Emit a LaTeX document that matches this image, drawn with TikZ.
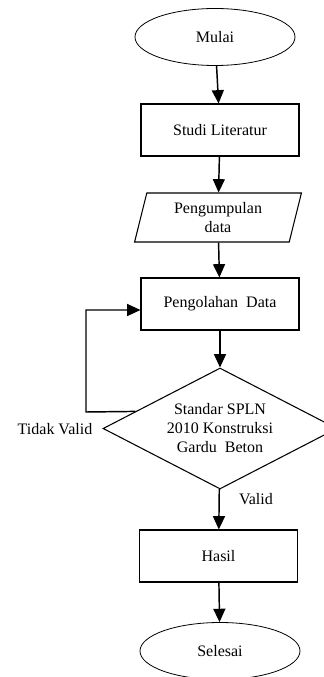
\documentclass[tikz,border=0pt]{standalone}
\usepackage{fontspec}
\setmainfont{Liberation Serif}
\usetikzlibrary{shapes.geometric,arrows.meta,calc}
\begin{document}
\begin{tikzpicture}[x=0.75pt,y=-0.75pt,font=\fontsize{12}{14.25}\selectfont,
  terminal/.style={draw, ellipse, line width=0.6pt, minimum width=120pt, minimum height=42.75pt, inner sep=0pt},
  process/.style={draw, rectangle, line width=0.8pt, minimum width=118.5pt, minimum height=39pt, inner sep=0pt},
  io/.style={draw, trapezium, trapezium left angle=76, trapezium right angle=104, line width=0.8pt, minimum width=125.25pt, minimum height=36.75pt, inner sep=0pt, align=center},
  decision/.style={draw, diamond, aspect=1.93, line width=0.8pt, minimum width=175.5pt, minimum height=90.75pt, inner sep=0pt, align=center},
  flow/.style={draw, line width=1.1pt, -{Triangle[length=10pt,width=9pt]}}]
\useasboundingbox (0,0) rectangle (324,677);
\node[terminal] (mulai) at (215,37) {Mulai};
\node[process] (studi) at (220,130) {Studi Literatur};
\node[io] (kumpul) at (218,217.5) {Pengumpulan\\data};
\node[process] (olah) at (220,304) {Pengolahan\ \ Data};
\node[decision] (cek) at (220,428.5) {Standar SPLN\\2010 Konstruksi\\Gardu\ \ Beton};
\node[process] (hasil) at (218.5,556) {Hasil};
\node[terminal] (selesai) at (220,651) {Selesai};
\node (tidak) at (55,429) {Tidak Valid};

\coordinate (tv0) at ($(cek.west)!0.28!(cek.north)$);
\coordinate (tv1) at (86,412);
\coordinate (tv2) at (86,310);

\path[flow] (mulai) -- (studi);
\path[flow] (studi) -- (kumpul);
\path[flow] (kumpul) -- (olah);
\path[flow] (olah) -- (cek);
\path[flow] (cek) -- node[right=11pt, pos=0.25] {Valid} (hasil);
\path[flow] (hasil) -- (selesai);
\path[flow] (tv0) -- (tv1) -- (tv2) -- (olah.west |- tv2);
\end{tikzpicture}
\end{document}
